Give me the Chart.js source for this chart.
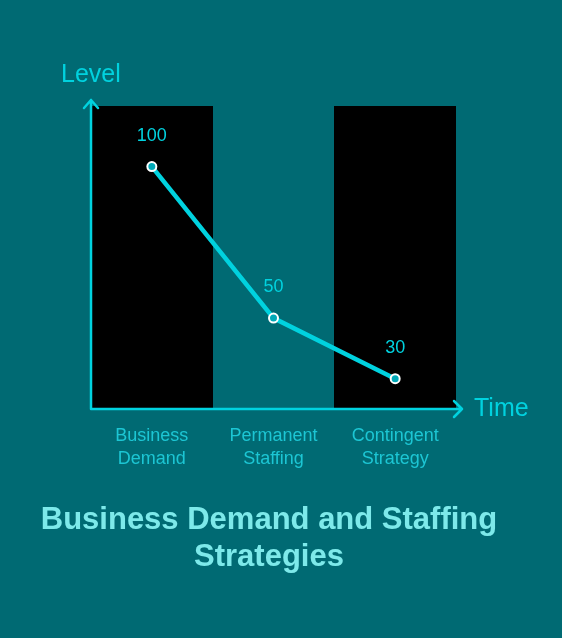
<!DOCTYPE html>
<html>
<head>
<meta charset="utf-8">
<script src="https://cdn.jsdelivr.net/npm/chart.js@4.4.0/dist/chart.umd.min.js"></script>
<style>
    html, body { margin: 0; padding: 0; background: #006a73; }
    #wrap { width: 562px; height: 638px; }
</style>
</head>
<body>
<div id="wrap"><canvas id="staffChart"></canvas></div>
<script>
// chart data
const categories = [['Business', 'Demand'], ['Permanent', 'Staffing'], ['Contingent', 'Strategy']];
const levelValues = [100, 50, 30];
const bandValues = [[20, 120], null, [20, 120]];
const titleLines = ['Business Demand and Staffing', 'Strategies'];

const cyan = '#00d2df';
const labelCyan = '#1cc6d4';

// axes with arrows, labels and title drawn on top
const decorPlugin = {
    id: 'decor',
    afterDraw: function(chart) {
        const ctx = chart.ctx;
        const area = chart.chartArea;
        const xs = chart.scales.x;
        ctx.save();

        // axis lines
        ctx.strokeStyle = cyan;
        ctx.lineWidth = 2.5;
        ctx.lineCap = 'round';
        ctx.lineJoin = 'round';
        ctx.beginPath();
        ctx.moveTo(area.left, area.bottom);
        ctx.lineTo(area.left, area.top - 6);
        ctx.moveTo(area.left - 7, area.top + 2);
        ctx.lineTo(area.left, area.top - 6);
        ctx.lineTo(area.left + 7, area.top + 2);
        ctx.moveTo(area.left, area.bottom);
        ctx.lineTo(area.right + 6, area.bottom);
        ctx.moveTo(area.right - 2, area.bottom - 8);
        ctx.lineTo(area.right + 6, area.bottom);
        ctx.lineTo(area.right - 2, area.bottom + 8);
        ctx.stroke();

        // axis names
        ctx.fillStyle = cyan;
        ctx.font = '25px "Liberation Sans", Arial, sans-serif';
        ctx.textAlign = 'left';
        ctx.textBaseline = 'middle';
        ctx.fillText('Level', area.left - 30, 75);
        ctx.fillText('Time', area.right + 18, area.bottom);

        // value labels
        const meta = chart.getDatasetMeta(1);
        ctx.font = '18px "Liberation Sans", Arial, sans-serif';
        ctx.textAlign = 'center';
        meta.data.forEach(function(pt, i) {
            ctx.fillText(String(levelValues[i]), pt.x, pt.y - 31);
        });

        // category labels
        ctx.fillStyle = labelCyan;
        ctx.font = '18px "Liberation Sans", Arial, sans-serif';
        categories.forEach(function(lines, i) {
            const x = xs.getPixelForValue(i);
            lines.forEach(function(line, j) {
                ctx.fillText(line, x, area.bottom + 27 + j * 23);
            });
        });

        // title
        ctx.fillStyle = '#7de9ea';
        ctx.font = 'bold 31px "Liberation Sans", Arial, sans-serif';
        titleLines.forEach(function(line, j) {
            ctx.fillText(line, 269, 520 + j * 37);
        });
        ctx.restore();
    }
};

const ctx = document.getElementById('staffChart');
const myChart = new Chart(ctx, {
    data: {
        labels: categories.map(function(c) { return c.join(' '); }),
        datasets: [{
            type: 'bar',
            data: bandValues,
            backgroundColor: '#000000',
            borderWidth: 0,
            categoryPercentage: 1,
            barPercentage: 1,
            order: 2
        }, {
            type: 'line',
            data: levelValues,
            borderColor: cyan,
            borderWidth: 4.5,
            pointRadius: 4.5,
            pointBorderWidth: 2,
            pointBorderColor: '#ffffff',
            pointBackgroundColor: '#00a9b8',
            tension: 0,
            clip: false,
            order: 1
        }]
    },
    options: {
        responsive: true,
        maintainAspectRatio: false,
        animation: false,
        layout: {
            padding: { left: 91, right: 106, top: 106, bottom: 229 }
        },
        scales: {
            x: { display: false, offset: true },
            y: { display: false, min: 20, max: 120 }
        },
        plugins: {
            legend: { display: false },
            tooltip: { enabled: false }
        }
    },
    plugins: [decorPlugin]
});
</script>
</body>
</html>
